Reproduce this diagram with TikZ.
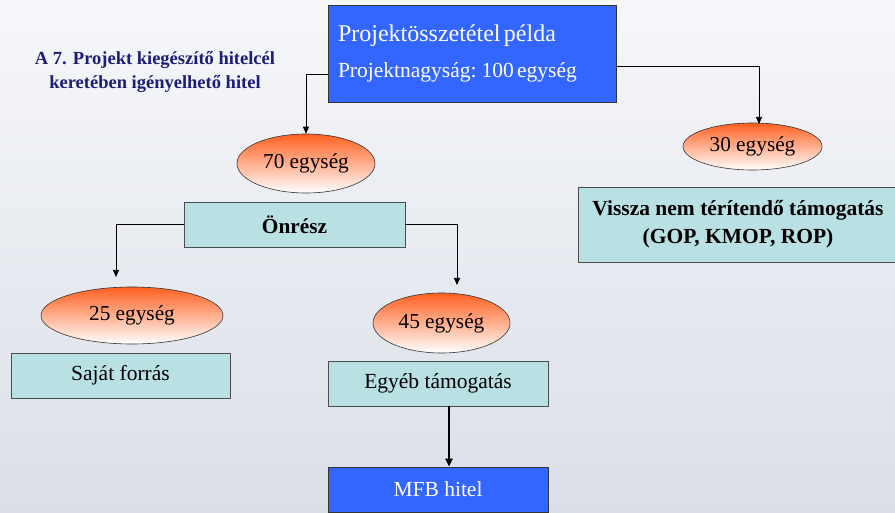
\documentclass[tikz,border=0pt]{standalone}
\usepackage{fontspec}
\setmainfont{Liberation Serif}
\usetikzlibrary{shapes.geometric,arrows.meta}

\definecolor{bgtop}{RGB}{246,247,250}
\definecolor{bgbot}{RGB}{218,223,231}
\definecolor{projblue}{RGB}{51,102,255}
\definecolor{tealbox}{RGB}{185,224,226}
\definecolor{egyorange}{RGB}{255,96,32}
\definecolor{titlenavy}{RGB}{30,30,120}

\tikzset{
  bluebox/.style={draw=black!80, fill=projblue, text=white, line width=0.8pt, inner sep=0pt},
  tealrect/.style={draw=black!70, fill=tealbox, line width=0.8pt, inner sep=0pt,
    font=\fontsize{21.5}{26}\selectfont},
  egyseg/.style={ellipse, draw=black!80, line width=0.6pt, inner sep=0pt,
    top color=egyorange, bottom color=white, font=\fontsize{21.3}{26}\selectfont},
  conn/.style={line width=0.7pt, -{Triangle[length=7pt,width=6pt]}}
}

\begin{document}
\begin{tikzpicture}[x=1pt,y=-1pt]

\useasboundingbox (0,0) rectangle (895,513);
\clip (0,0) rectangle (895,513);
\shade[top color=bgtop, bottom color=bgbot] (0,0) rectangle (895,513);

% cim
\node[text=titlenavy, font=\bfseries\fontsize{18.5}{24}\selectfont, align=center]
  (cim) at (155,72) {A 7. Projekt kiegészítő hitelcél\\keretében igényelhető hitel};

% projekt doboz
\node[bluebox, minimum width=288, minimum height=97, text width=268, align=left]
  (proj) at (472,53.5)
  {\fontsize{24}{28}\selectfont Projektösszetétel példa\\[15pt]
   \fontsize{21.5}{24}\selectfont Projektnagyság: 100 egység};

% egyseg ellipszisek
\node[egyseg, minimum width=138, minimum height=59] (e70) at (306,163.5) {70 egység};
\node[egyseg, minimum width=139, minimum height=47] (e30) at (752.5,146.5) {30 egység};
\node[egyseg, minimum width=182, minimum height=57] (e25) at (132,315.5) {25 egység};
\node[egyseg, minimum width=137, minimum height=60] (e45) at (441.5,323) {45 egység};

% dobozok
\node[tealrect, minimum width=221, minimum height=45, font=\bfseries\fontsize{21.3}{26}\selectfont]
  (onresz) at (294.5,224.5) {Önrész};
\node[tealrect, minimum width=320, minimum height=75, align=center,
  font=\bfseries\fontsize{21.5}{28}\selectfont]
  (vissza) at (738,224.5) {Vissza nem térítendő támogatás\\(GOP, KMOP, ROP)};
\node[tealrect, minimum width=219, minimum height=45] (sajat) at (120.5,375.5) {Saját forrás};
\node[tealrect, minimum width=220, minimum height=45] (egyeb) at (438,383.5) {Egyéb támogatás};
\node[bluebox, minimum width=220, minimum height=45, font=\fontsize{21.5}{26}\selectfont]
  (mfb) at (438,489.5) {MFB hitel};

% nyilak
\coordinate (a30) at (759,124);
\coordinate (a25) at (116,277);
\coordinate (a45) at (457,285);

\draw[conn] ([yshift=28pt]proj.south west) -| (e70.north);
\draw[conn] ([yshift=36pt]proj.south east) -| (a30);
\draw[conn] (onresz.west) -| (a25);
\draw[conn] (onresz.east) -| (a45);
\draw[line width=2.2pt, -{Triangle[length=8pt,width=7pt]}]
  ([xshift=11pt]egyeb.south) -- ([xshift=11pt]mfb.north);

\end{tikzpicture}
\end{document}
